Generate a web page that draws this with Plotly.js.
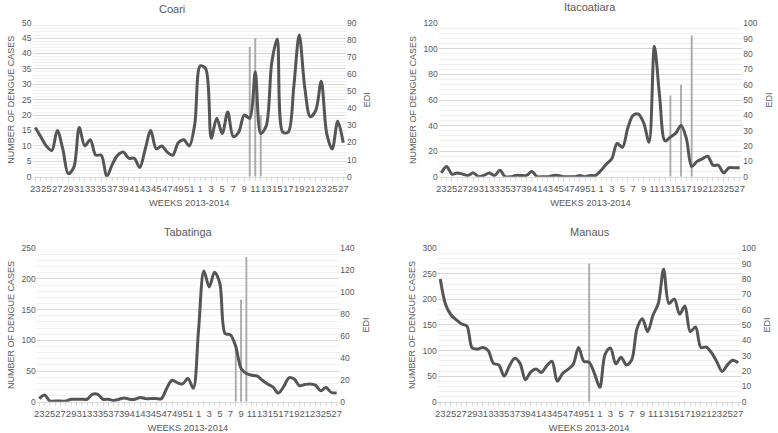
<!DOCTYPE html>
<html>
<head>
<meta charset="utf-8">
<script src="https://cdn.plot.ly/plotly-3.0.1.min.js"></script>
<style>
  html, body { margin: 0; padding: 0; background: #fff; }
  #chart { width: 778px; height: 433px; }
</style>
</head>
<body>
<div id="chart"></div>
<script>
// epidemiological weeks, June 2013 to July 2014
const weeks2013 = [23, 24, 25, 26, 27, 28, 29, 30, 31, 32, 33, 34, 35, 36, 37, 38, 39, 40, 41, 42,
  43, 44, 45, 46, 47, 48, 49, 50, 51, 52];
const weeks2014 = [1, 2, 3, 4, 5, 6, 7, 8, 9, 10, 11, 12, 13, 14, 15, 16, 17, 18, 19, 20,
  21, 22, 23, 24, 25, 26, 27];

// weekly dengue cases
const coariCases = [16, 13, 10, 8.5, 15, 9, 1, 3, 16, 10, 12, 7, 7, 0, 4, 7, 8, 6, 6, 3,
  9, 15, 9, 10, 8, 7, 11, 12, 10, 17,
  36, 35, 12.5, 19, 14, 21, 13, 14.5, 20, 19, 34, 14, 16.5, 37, 44.7, 14.5, 14.5, 29, 46, 29,
  19.5, 21.5, 31, 14, 9, 18, 11];
const itacoatiaraCases = [3, 8, 2, 3, 2, 1, 3, 0, 1, 3, 1, 5, 0, 0, 1, 1, 1, 4, 0, 0,
  0, 1, 1, 0, 0, 0, 1, 0, 1, 1,
  5, 10, 14, 26, 23, 38, 48, 49, 42, 27, 102, 62, 28, 31, 34, 40, 30, 8, 12, 14,
  16, 9, 9, 3, 7, 7, 7];
const tabatingaCases = [5, 11, 1, 1, 1, 1, 4, 4, 4, 4, 12, 12, 4, 4, 2, 4, 6, 4, 4, 7,
  5, 5, 5, 5, 22, 35, 31, 29, 38, 22,
  118, 213, 187, 211, 193, 111, 109, 90, 54, 46, 43, 42, 35, 29, 24, 14, 24, 39, 37, 26,
  28, 29, 27, 18, 23, 15, 14];
const manausCases = [240, 190, 170, 160, 152, 148, 105, 103, 106, 100, 75, 72, 50, 70, 85, 75, 43, 58, 64, 57,
  70, 79, 40, 55, 63, 73, 106, 79, 77, 55,
  28, 93, 105, 74, 87, 72, 82, 143, 162, 137, 169, 192, 259, 192, 201, 171, 187, 137, 146, 106,
  107, 96, 78, 59, 72, 81, 76];

// EDI bars: week and value
const coariEdiWeeks = ['2014-10', '2014-11', '2014-12'];
const coariEdi = [76, 81, 36];
const itacoatiaraEdiWeeks = ['2014-14', '2014-16', '2014-18'];
const itacoatiaraEdi = [53, 60, 92];
const tabatingaEdiWeeks = ['2014-8', '2014-9', '2014-10'];
const tabatingaEdi = [50, 93, 132];
const manausEdiWeeks = ['2013-51'];
const manausEdi = [90];

const weekKeys = weeks2013.map(w => '2013-' + w).concat(weeks2014.map(w => '2014-' + w));
const weekLabels = weeks2013.concat(weeks2014).map(String);
const weekIdx = weekKeys.map((k, i) => i);
const tickIdx = weekIdx.filter(i => i % 2 === 0);
const tickText = tickIdx.map(i => weekLabels[i]);

const grey = '#595959';
const font = 'Liberation Sans, Arial, sans-serif';

const panels = [
  {name: 'Coari', cases: coariCases, ediWeeks: coariEdiWeeks, edi: coariEdi,
    caseMax: 50, caseStep: 5, ediMax: 90, ediStep: 10,
    dx: [0.0418, 0.4447], dy: [0.5919, 0.9476], tx: 172, ty: 9},
  {name: 'Itacoatiara', cases: itacoatiaraCases, ediWeeks: itacoatiaraEdiWeeks, edi: itacoatiaraEdi,
    caseMax: 120, caseStep: 20, ediMax: 100, ediStep: 10,
    dx: [0.5638, 0.9541], dy: [0.5919, 0.9462], tx: 590, ty: 7},
  {name: 'Tabatinga', cases: tabatingaCases, ediWeeks: tabatingaEdiWeeks, edi: tabatingaEdi,
    caseMax: 250, caseStep: 50, ediMax: 140, ediStep: 20,
    dx: [0.0471, 0.4361], dy: [0.0723, 0.4266], tx: 188, ty: 232},
  {name: 'Manaus', cases: manausCases, ediWeeks: manausEdiWeeks, edi: manausEdi,
    caseMax: 300, caseStep: 50, ediMax: 100, ediStep: 10,
    dx: [0.5625, 0.9521], dy: [0.0723, 0.4266], tx: 590, ty: 232}
];

const traces = [];
const layout = {
  width: 778, height: 433,
  margin: {l: 0, r: 0, t: 0, b: 0},
  paper_bgcolor: '#fff', plot_bgcolor: 'rgba(0,0,0,0)',
  showlegend: false,
  font: {family: font, color: grey},
  annotations: []
};

panels.forEach((p, i) => {
  const n = i + 1;
  const xId = n === 1 ? 'x' : 'x' + n;
  const ediId = i === 0 ? 'y' : 'y' + (2 * i + 1);
  const caseId = 'y' + (2 * i + 2);
  const axKey = id => id.charAt(0) + 'axis' + id.slice(1);

  // bars on the base axis so the line is drawn over them
  traces.push({
    type: 'bar', x: p.ediWeeks.map(k => weekKeys.indexOf(k)), y: p.edi,
    xaxis: xId, yaxis: ediId, width: 0.35,
    marker: {color: '#a9a9a9', line: {width: 0}}, name: 'EDI'
  });
  traces.push({
    type: 'scatter', mode: 'lines', x: weekIdx, y: p.cases,
    xaxis: xId, yaxis: caseId, name: 'Cases',
    line: {color: '#555555', width: 3, shape: 'spline', smoothing: 0.9}
  });

  layout[axKey(xId)] = {
    domain: p.dx, anchor: ediId, range: [-0.5, 56.5],
    tickmode: 'array', tickvals: tickIdx, ticktext: tickText, tickangle: 0,
    showgrid: false, zeroline: false, showline: true, linecolor: '#d9d9d9',
    ticks: 'outside', ticklen: 3, tickcolor: '#d9d9d9',
    minor: {tickmode: 'linear', tick0: 0, dtick: 1, ticks: 'outside', ticklen: 3, tickcolor: '#d9d9d9'},
    tickfont: {size: 9.5, color: grey},
    title: {text: 'WEEKS 2013-2014', font: {size: 9.3, color: grey}, standoff: 6}
  };
  layout[axKey(ediId)] = {
    domain: p.dy, anchor: xId, side: 'right',
    range: [0, p.ediMax], tick0: 0, dtick: p.ediStep,
    showgrid: false, zeroline: false, showline: false, ticks: '',
    tickfont: {size: 8.5, color: grey},
    title: {text: 'EDI', font: {size: 9, color: grey}, standoff: 8}
  };
  layout[axKey(caseId)] = {
    overlaying: ediId, anchor: xId, side: 'left',
    range: [0, p.caseMax], tick0: 0, dtick: p.caseStep,
    showgrid: true, gridcolor: '#d9d9d9', gridwidth: 1,
    minor: {dtick: p.caseStep / 5, showgrid: true, gridcolor: '#f0f0f0', gridwidth: 1},
    zeroline: false, showline: false, ticks: '',
    tickfont: {size: 8.5, color: grey},
    title: {text: 'NUMBER OF DENGUE CASES', font: {size: 9, color: grey}, standoff: 5}
  };

  layout.annotations.push({
    text: p.name, xref: 'paper', yref: 'paper',
    x: p.tx / 778, y: 1 - p.ty / 433, xanchor: 'center', yanchor: 'middle',
    showarrow: false, font: {size: 11, color: grey}
  });
});

Plotly.newPlot('chart', traces, layout, {displayModeBar: false, staticPlot: true});
</script>
</body>
</html>
